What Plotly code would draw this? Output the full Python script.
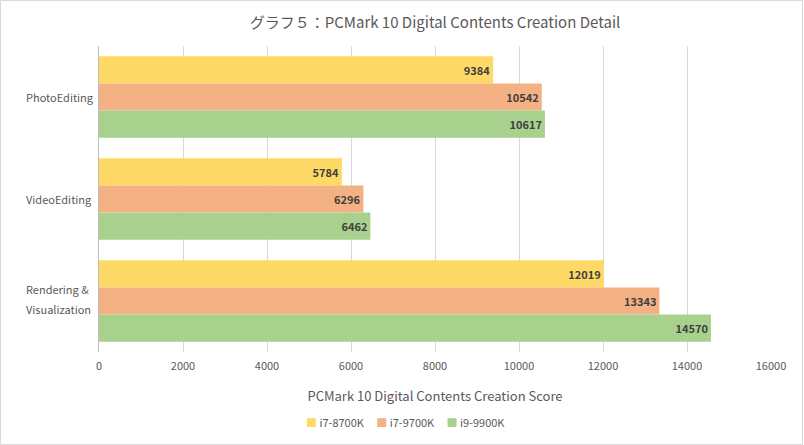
import plotly.graph_objects as go

categories = ["PhotoEditing", "VideoEditing", "Rendering & Visualization"]
category_lines = [["PhotoEditing"], ["VideoEditing"], ["Rendering &", "Visualization"]]
series_names = ["i7-8700K", "i7-9700K", "i9-9900K"]
i7_8700k = [9384, 5784, 12019]
i7_9700k = [10542, 6296, 13343]
i9_9900k = [10617, 6462, 14570]
x_ticks = [0, 2000, 4000, 6000, 8000, 10000, 12000, 14000, 16000]

colors = ["#FFD966", "#F4B183", "#A9D18E"]
font_family = "Noto Sans CJK JP, Meiryo, sans-serif"
L, R, T, B = 99, 33, 46, 93
PW, PH = 804 - L - R, 445 - T - B

fig = go.Figure()
for name, vals, col in zip(series_names, [i7_8700k, i7_9700k, i9_9900k], colors):
    fig.add_trace(go.Bar(
        y=categories, x=vals, name=name, orientation="h",
        marker=dict(color=col, line=dict(width=0)),
        text=[str(v) for v in vals], textposition="inside", insidetextanchor="end",
        textfont=dict(color="#404040", size=11, family=font_family, weight="bold"),
        showlegend=False,
    ))

annotations = []
# category labels (left aligned, like the reference)
for cat, lines in zip(categories, category_lines):
    n = len(lines)
    for i, line in enumerate(lines):
        shift = (n - 1) * 12 - i * 20
        annotations.append(dict(
            text=line, xref="paper", yref="y", x=-75 / PW, y=cat,
            xanchor="left", yanchor="middle", yshift=shift, showarrow=False,
            font=dict(size=11, color="#595959", family=font_family)))

# legend drawn as text
legend_text = "&nbsp;&nbsp;&nbsp;&nbsp;&nbsp;".join(
    f"<span style='color:{c}'>■</span> {n}" for n, c in zip(series_names, colors))
annotations.append(dict(
    text=legend_text, xref="paper", yref="paper", x=(405 - L) / PW,
    y=-(422 - (T + PH)) / PH, xanchor="center", yanchor="middle", showarrow=False,
    font=dict(size=11, color="#595959", family=font_family)))

fig.update_layout(
    width=804, height=445,
    barmode="group", bargap=0.2, bargroupgap=0,
    paper_bgcolor="white", plot_bgcolor="white",
    margin=dict(l=L, r=R, t=T, b=B, autoexpand=False),
    font=dict(family=font_family, color="#595959", size=11),
    title=dict(text="グラフ５：PCMark 10 Digital Contents Creation Detail",
               x=0.5, xref="paper", y=1 - 23 / 445, yanchor="middle",
               font=dict(size=15, color="#595959", family=font_family)),
    xaxis=dict(range=[0, 16000], tickvals=x_ticks, ticktext=[str(v) for v in x_ticks],
               showgrid=True, gridcolor="#D9D9D9",
               gridwidth=1, zeroline=False, showline=False, automargin=False,
               ticklabelstandoff=6,
               tickfont=dict(size=11, color="#595959"),
               title=dict(text="PCMark 10 Digital Contents Creation Score",
                          font=dict(size=13, color="#595959"), standoff=19)),
    yaxis=dict(autorange="reversed", showline=True, linecolor="#BFBFBF", linewidth=1,
               ticks="", showticklabels=False, automargin=False),
    annotations=annotations,
    shapes=[dict(type="rect", xref="paper", yref="paper",
                 x0=-(L - 0.5) / PW, x1=1 + (R - 1.5) / PW,
                 y0=-(B - 0.5) / PH, y1=1 + (T - 0.5) / PH,
                 line=dict(color="#D9D9D9", width=1), layer="below")],
)

fig.write_html("out.html", config={"displayModeBar": False},
               post_script="document.body.style.margin='0';document.body.style.padding='0';")
